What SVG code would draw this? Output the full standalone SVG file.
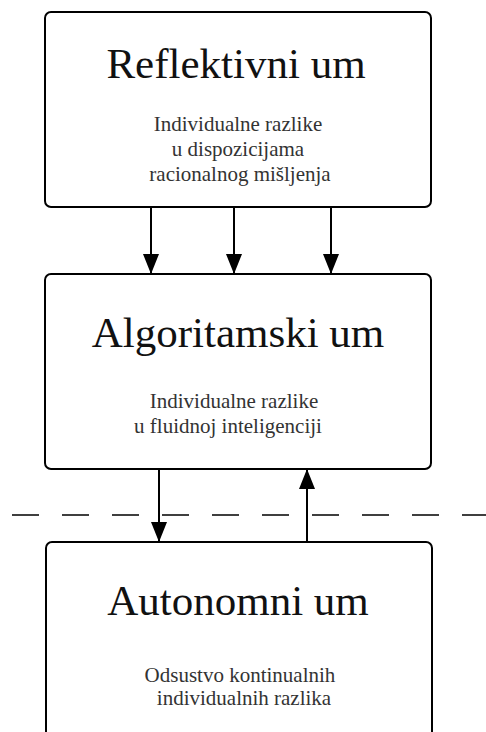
<svg xmlns="http://www.w3.org/2000/svg" width="486" height="732" viewBox="0 0 486 732">
  <style>
    .box { fill: #ffffff; stroke: #000000; stroke-width: 2; }
    .title { font-family: "Liberation Serif", "DejaVu Serif", serif; font-size: 43px; fill: #111111; text-anchor: middle; }
    .sub { font-family: "Liberation Serif", "DejaVu Serif", serif; font-size: 21px; fill: #333333; text-anchor: middle; }
    .link { stroke: #000000; stroke-width: 2; fill: none; }
    .divider { stroke: #000000; stroke-width: 1.6; stroke-dasharray: 27 23; fill: none; }
  </style>
  <defs>
    <marker id="arrow" viewBox="0 0 20 16" refX="20" refY="8" markerWidth="20" markerHeight="16" markerUnits="userSpaceOnUse" orient="auto">
      <path d="M0,0 L20,8 L0,16 Z" fill="#000000"/>
    </marker>
  </defs>

  <rect width="486" height="732" fill="#ffffff"/>

  <!-- dashed boundary between the upper and lower minds -->
  <line class="divider" x1="12" y1="515" x2="486" y2="515"/>

  <g id="reflektivni">
    <rect class="box" x="45" y="12" width="386" height="195" rx="6"/>
    <text class="title" x="236" y="78">Reflektivni um</text>
    <text class="sub" x="238" y="131">Individualne razlike</text>
    <text class="sub" x="238" y="156">u dispozicijama</text>
    <text class="sub" x="240" y="181">racionalnog mišljenja</text>
  </g>

  <g id="algoritamski">
    <rect class="box" x="45" y="274" width="386" height="195" rx="6"/>
    <text class="title" x="238" y="347">Algoritamski um</text>
    <text class="sub" x="234" y="408">Individualne razlike</text>
    <text class="sub" x="228" y="433">u fluidnoj inteligenciji</text>
  </g>

  <g id="autonomni">
    <rect class="box" x="46" y="542" width="386" height="210" rx="6"/>
    <text class="title" x="238" y="615">Autonomni um</text>
    <text class="sub" x="240" y="682">Odsustvo kontinualnih</text>
    <text class="sub" x="244" y="705">individualnih razlika</text>
  </g>

  <g id="connectors">
    <line class="link" x1="151" y1="207" x2="151" y2="274" marker-end="url(#arrow)"/>
    <line class="link" x1="234" y1="207" x2="234" y2="274" marker-end="url(#arrow)"/>
    <line class="link" x1="331" y1="207" x2="331" y2="274" marker-end="url(#arrow)"/>
    <line class="link" x1="159" y1="469" x2="159" y2="542" marker-end="url(#arrow)"/>
    <line class="link" x1="307" y1="542" x2="307" y2="469" marker-end="url(#arrow)"/>
  </g>
</svg>
